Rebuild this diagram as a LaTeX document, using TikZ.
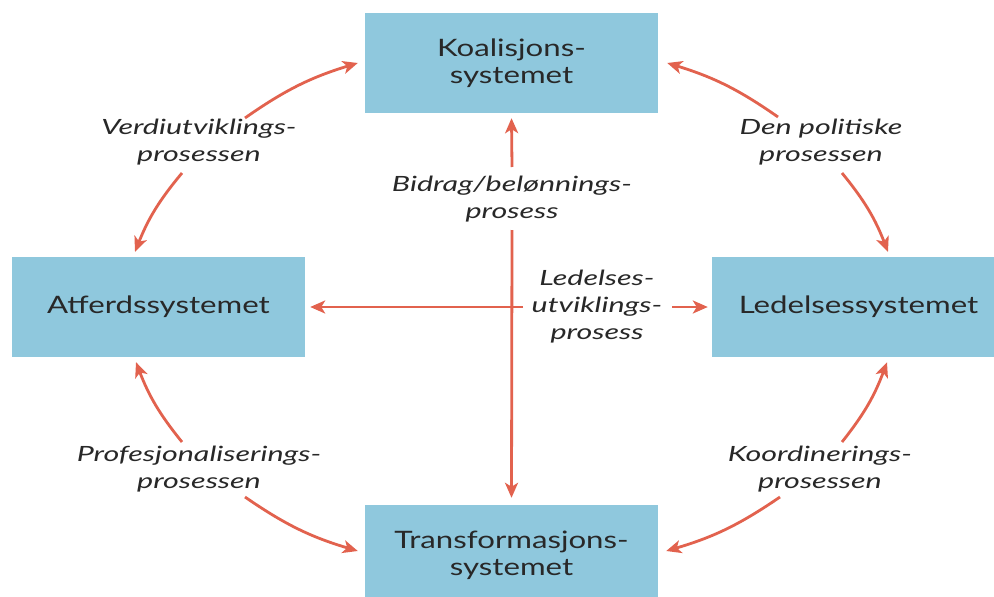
\documentclass[tikz,border=0pt]{standalone}
\usepackage{fontspec}
\setmainfont{Lato}[FakeStretch=1.3]
\newfontfamily\lblfont{Lato}[FakeStretch=1.45]
\usetikzlibrary{arrows.meta}
\definecolor{boxblue}{RGB}{143,200,221}
\definecolor{arrowred}{RGB}{226,98,78}
\definecolor{txt}{RGB}{40,40,40}
\begin{document}
\begin{tikzpicture}[x=1pt,y=-1pt,
  sysbox/.style={fill=boxblue, minimum width=293pt, minimum height=100pt, inner sep=0pt,
    font=\fontsize{24}{27}\selectfont, text=txt, align=center},
  lbl/.style={font=\lblfont\itshape\fontsize{21}{27}\selectfont, text=txt, align=center, inner sep=0pt},
  arr/.style={draw=arrowred, line width=2.8pt, -{Stealth[length=15pt,width=13pt,inset=4pt]}}]
\useasboundingbox (0,0) rectangle (994,597);
\fill[white] (0,0) rectangle (994,597);
% boxes
\node[sysbox] (K) at (511.5,63) {Koalisjons-\\systemet};
\node[sysbox] (A) at (158.5,307) {Atferdssystemet};
\node[sysbox] (L) at (858.5,307) {Ledelsessystemet};
\node[sysbox] (T) at (511.5,555) {Transformasjons-\\systemet};
% labels
\node[lbl] (verdi) at (199,142) {Verdiutviklings-\\prosessen};
\node[lbl] (polit) at (821,142) {Den politiske\\prosessen};
\node[lbl] (prof) at (199,469) {Profesjonaliserings-\\prosessen};
\node[lbl] (koord) at (820,469) {Koordinerings-\\prosessen};
\node[lbl] (bidrag) at (512,199) {Bidrag/belønnings-\\prosess};
\node[lbl] (ledut) at (597,307) {Ledelses-\\utviklings-\\prosess};
% start points of connectors
\coordinate (v1) at (245,118);
\coordinate (v2) at (182,173);
\coordinate (p1) at (778,117);
\coordinate (p2) at (842,173);
\coordinate (f1) at (182,442);
\coordinate (f2) at (245,497);
\coordinate (k1) at (842,442);
\coordinate (k2) at (780,497);
\coordinate (b1) at (512,167);
\coordinate (b2) at (512,230);
\coordinate (h1) at (523,307);
\coordinate (h2) at (672,307);
% curved arrows
\draw[arr] (v1) to[bend left=9] ([xshift=-7pt]K.west);
\draw[arr] (v2) to[bend right=9] ([xshift=-23.5pt,yshift=5pt]A.north);
\draw[arr] (p1) to[bend right=9] ([xshift=9pt]K.east);
\draw[arr] (p2) to[bend left=9] ([xshift=29.5pt,yshift=5pt]L.north);
\draw[arr] (f1) to[bend left=9] ([xshift=-22.5pt,yshift=-5pt]A.south);
\draw[arr] (f2) to[bend right=9] ([xshift=-7pt,yshift=4pt]T.west);
\draw[arr] (k1) to[bend right=9] ([xshift=28.5pt,yshift=-5pt]L.south);
\draw[arr] (k2) to[bend left=9] ([xshift=8pt,yshift=4pt]T.east);
% straight arrows
\draw[arr] (b1) -- ([yshift=-5pt]K.south);
\draw[arr] (b2) -- ([yshift=7pt]T.north);
\draw[arr] (h1) -- ([xshift=5pt]A.east);
\draw[arr] (h2) -- ([xshift=-4pt]L.west);
\end{tikzpicture}
\end{document}
